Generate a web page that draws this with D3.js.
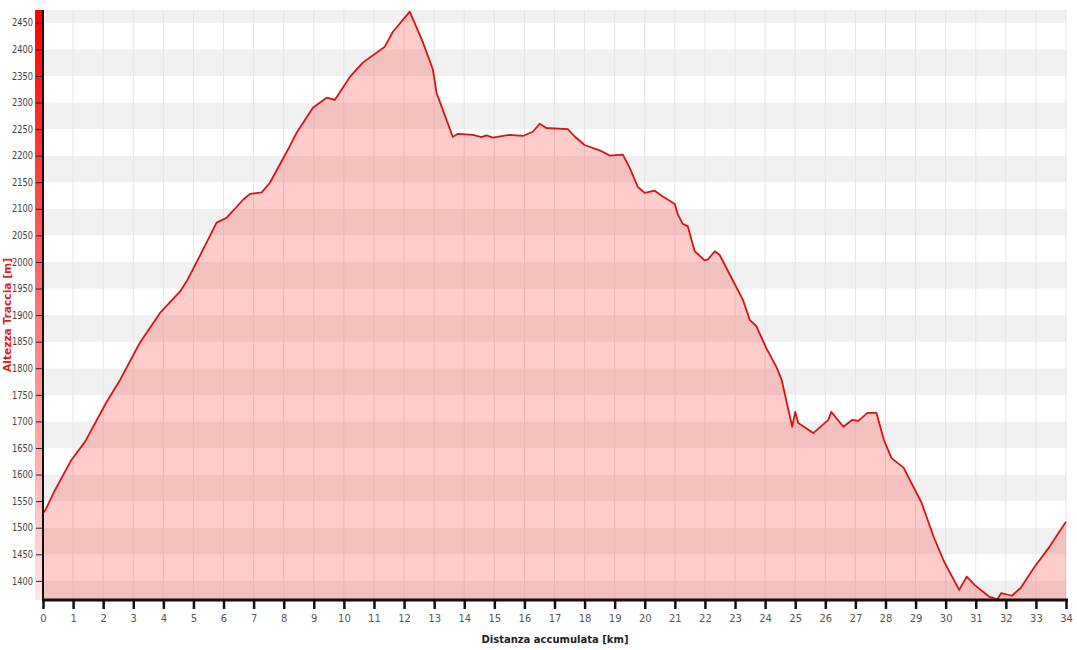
<!DOCTYPE html>
<meta charset="utf-8">
<title>Profilo altimetrico</title>
<script src="https://d3js.org/d3.v7.min.js"></script>
<style>
  body { margin: 0; background: #fff; }
  text { font-family: Tahoma, "DejaVu Sans", sans-serif; }
</style>
<body>
<script>
var distKm = [0, 0.07, 0.4, 0.95, 1.4, 2.1, 2.56, 3.22, 3.89, 4.55, 4.77, 5.2, 5.77, 6.1, 6.65, 6.88, 7.27, 7.54,
  8.14, 8.43, 8.97, 9.43, 9.7, 10.2, 10.63, 11.36, 11.63, 12.19, 12.62, 12.96, 13.08, 13.62, 13.79, 14.29, 14.57,
  14.74, 14.95, 15.5, 15.95, 16.28, 16.51, 16.73, 17.44, 17.67, 18.0, 18.5, 18.84, 19.27, 19.5, 19.77, 20.0, 20.33,
  20.6, 21.0, 21.1, 21.26, 21.43, 21.66, 21.76, 21.99, 22.1, 22.33, 22.49, 22.92, 23.26, 23.49, 23.71, 24.04, 24.37,
  24.55, 24.9, 25.0, 25.1, 25.6, 26.1, 26.2, 26.6, 26.9, 27.1, 27.4, 27.7, 27.95, 28.2, 28.6, 29.2, 29.6, 29.95,
  30.45, 30.7, 30.97, 31.45, 31.6, 31.7, 31.85, 32.2, 32.5, 32.95, 33.45, 34];
var elevM = [1528, 1532, 1571, 1628, 1662, 1735, 1778, 1848, 1904, 1944, 1963, 2010, 2074, 2083, 2117, 2128, 2131, 2149,
  2211, 2243, 2290, 2309, 2305, 2348, 2375, 2405, 2433, 2471, 2414, 2362, 2318, 2235, 2241, 2239, 2235,
  2238, 2234, 2239, 2237, 2245, 2260, 2252, 2250, 2236, 2220, 2210, 2200, 2202, 2177, 2141, 2130, 2134,
  2123, 2109, 2089, 2072, 2067, 2020, 2015, 2003, 2005, 2020, 2013, 1966, 1929, 1891, 1879, 1838, 1803,
  1778, 1690, 1718, 1697, 1678, 1703, 1718, 1690, 1703, 1701, 1716, 1716, 1665, 1631, 1613, 1547, 1483, 1436,
  1383, 1408, 1392, 1370, 1368, 1364, 1377, 1372, 1387, 1426, 1464, 1511];
var xTicks = d3.range(0, 35, 1);
var yTicks = d3.range(1400, 2451, 50);

var W = 1077, H = 650;
var plotL = 43, plotR = 1066, plotT = 10, plotB = 600;

var x = d3.scaleLinear().domain([0, 34]).range([plotL, plotR]);
var y = d3.scaleLinear().domain([1364, 2474]).range([plotB, plotT]);

var svg = d3.select("body").append("svg")
    .attr("width", W).attr("height", H);

// gradiente della barra rossa a sinistra
var defs = svg.append("defs");
var grad = defs.append("linearGradient").attr("id", "redbar")
    .attr("x1", 0).attr("y1", 0).attr("x2", 0).attr("y2", 1);
grad.append("stop").attr("offset", "0%").attr("stop-color", "#ff0000");
grad.append("stop").attr("offset", "100%").attr("stop-color", "#ffe6e6");

// fasce orizzontali alternate
var bands = d3.range(1350, 2474, 50);
svg.append("g").selectAll("rect").data(bands).join("rect")
    .attr("x", plotL).attr("width", plotR - plotL)
    .attr("y", function(d) { return y(Math.min(d + 50, 2474)); })
    .attr("height", function(d) { return y(Math.max(d, 1364)) - y(Math.min(d + 50, 2474)); })
    .attr("fill", function(d) { return (d % 100 === 50) ? "#f0f0f0" : "#ffffff"; });

// griglia verticale
svg.append("g").selectAll("line").data(xTicks.slice(1)).join("line")
    .attr("x1", x).attr("x2", x).attr("y1", plotT).attr("y2", plotB)
    .attr("stroke", "#e4e4e4").attr("stroke-width", 1);

// area e linea del profilo
var pts = distKm.map(function(d, i) { return [d, elevM[i]]; });
var area = d3.area()
    .x(function(d) { return x(d[0]); })
    .y0(plotB)
    .y1(function(d) { return y(d[1]); });
var line = d3.line()
    .x(function(d) { return x(d[0]); })
    .y(function(d) { return y(d[1]); });

svg.append("path").datum(pts)
    .attr("d", area)
    .attr("fill", "rgba(255,0,0,0.2)");
svg.append("path").datum(pts)
    .attr("d", line)
    .attr("fill", "none")
    .attr("stroke", "#d41515")
    .attr("stroke-width", 1.8)
    .attr("stroke-linejoin", "round");

// barra rossa
svg.append("rect")
    .attr("x", 35).attr("y", plotT).attr("width", 7).attr("height", plotB - plotT)
    .attr("fill", "url(#redbar)");

// asse Y
var yAxis = svg.append("g")
    .attr("transform", "translate(" + plotL + ",0)")
    .call(d3.axisLeft(y).tickValues(yTicks).tickSize(7).tickPadding(3).tickFormat(d3.format("d")));
yAxis.select(".domain").remove();
yAxis.selectAll(".tick line").attr("stroke", "#222");
yAxis.selectAll(".tick text").attr("font-size", 10).attr("fill", "#444")
    .attr("font-family", "Tahoma, 'DejaVu Sans Condensed', sans-serif")
    .attr("textLength", 21).attr("lengthAdjust", "spacingAndGlyphs");
svg.append("line")
    .attr("x1", plotL).attr("x2", plotL).attr("y1", plotT).attr("y2", plotB)
    .attr("stroke", "#111").attr("stroke-width", 2);

// asse X
var xAxis = svg.append("g")
    .attr("transform", "translate(0," + plotB + ")")
    .call(d3.axisBottom(x).tickValues(xTicks).tickSize(9).tickPadding(6).tickFormat(d3.format("d")));
xAxis.select(".domain").remove();
xAxis.selectAll(".tick line").attr("stroke", "#111").attr("stroke-width", 2.5);
xAxis.selectAll(".tick text").attr("font-size", 10).attr("fill", "#555")
    .attr("font-family", "Tahoma, 'DejaVu Sans Condensed', sans-serif");
svg.append("line")
    .attr("x1", plotL - 1).attr("x2", plotR + 2).attr("y1", plotB).attr("y2", plotB)
    .attr("stroke", "#1a0a0a").attr("stroke-width", 3);

// titoli assi
svg.append("text")
    .attr("x", 555).attr("y", 643)
    .attr("text-anchor", "middle")
    .attr("font-size", 10).attr("font-weight", "bold").attr("fill", "#222")
    .attr("font-family", "'DejaVu Sans Condensed', sans-serif")
    .text("Distanza accumulata [km]");
svg.append("text")
    .attr("transform", "translate(11,315) rotate(-90)")
    .attr("text-anchor", "middle")
    .attr("font-size", 10).attr("font-weight", "bold").attr("fill", "#e02020")
    .attr("font-family", "'DejaVu Sans Condensed', sans-serif")
    .attr("textLength", 114).attr("lengthAdjust", "spacingAndGlyphs")
    .text("Altezza Traccia [m]");
</script>
</body>
